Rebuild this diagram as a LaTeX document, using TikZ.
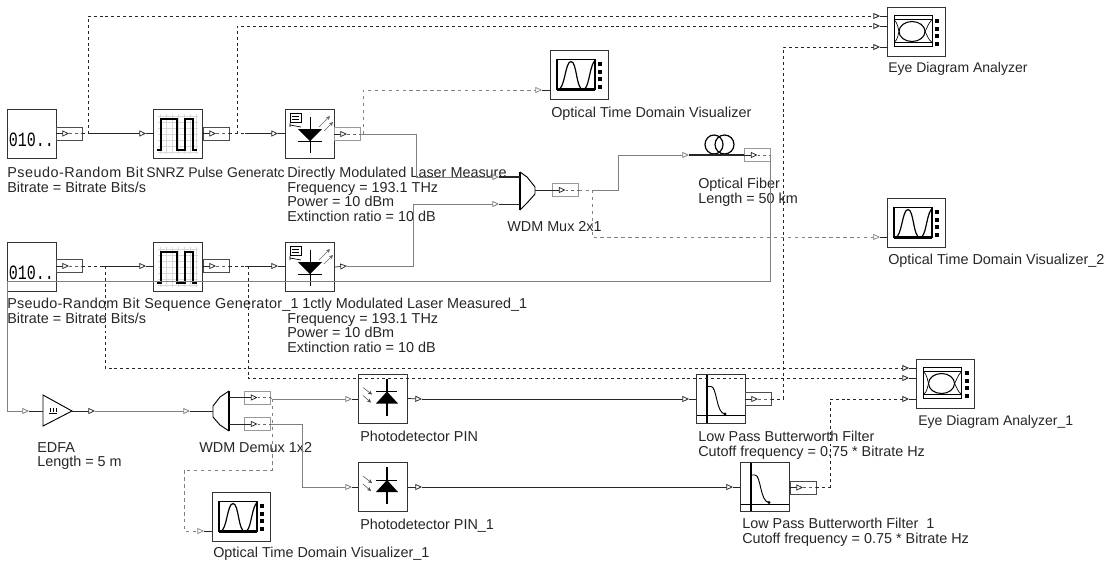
\documentclass[tikz,border=0pt]{standalone}
\usepackage{fontspec}
\setmainfont{Liberation Sans}
\newfontfamily\iconfont{Liberation Mono}
\usetikzlibrary{arrows.meta}
\newcommand{\widerun}[2]{{\addfontfeature{LetterSpace=#1}#2}}
\tikzset{
    blockbox/.style={draw=black!80,line width=0.6pt,minimum width=36.75pt,minimum height=36.75pt,inner sep=0pt},
    scopebox/.style={draw=black!80,line width=0.6pt,minimum width=43.5pt,minimum height=36.75pt,inner sep=0pt},
    portbox/.style={draw=black!70,line width=0.5pt,minimum width=19.5pt,minimum height=9.5pt,inner sep=0pt},
    portgrey/.style={portbox,draw=black!40},
    nodetext/.style={font=\fontsize{10.8}{10.9}\selectfont,anchor=north west,inner sep=0pt,align=left,text=black!85},
    tighttext/.style={nodetext,font=\fontsize{10.5}{10.9}\selectfont},
    eltip/.style={-{Triangle[open,fill=white,length=5pt,width=4.5pt]}},
    ellink/.style={draw=black!85,line width=0.55pt},
    oplink/.style={draw=black!50,line width=0.6pt},
    elwire/.style={draw=black!85,line width=0.65pt,dash pattern=on 2.2pt off 2.2pt},
    opwire/.style={draw=black!50,line width=0.5pt,dash pattern=on 2.6pt off 2.6pt},
    pics/bitsicon/.style={code={
        \node[font=\iconfont\fontsize{11.25}{12}\selectfont,inner sep=0pt] (-bits) at (0,6) {\scalebox{1}[1.35]{010..}};
    }},
    pics/pulseicon/.style={code={
        \foreach \g in {-18,-12,...,18} {\draw[black!15,line width=0.3pt] (\g,-20) -- (\g,20); \draw[black!15,line width=0.3pt] (-20,\g) -- (20,\g);}
        \draw[line width=0.9pt] (-21,16) -- (-17,16) -- (-17,-15) -- (-1,-15) -- (-1,16) -- (7,16) -- (7,-15) -- (15,-15) -- (15,16) -- (19,16);
    }},
    pics/lasericon/.style={code={
        \draw[line width=0.6pt] (0,-17) -- (0,19);
        \fill (-12,-5) -- (12,-5) -- (0,7) -- cycle;
        \draw[line width=0.6pt] (-12,7) -- (12,7);
        \draw[line width=0.5pt] (-20,-21) rectangle (-9,-12);
        \draw[line width=0.5pt] (-18,-18) -- (-11,-18) (-18,-15) -- (-11,-15);
        \draw[line width=0.5pt] (-20,-11) -- (-20,-7) (-20,-9) -- (-9,-7);
        \draw[black!60,line width=0.4pt,-{Stealth[length=3pt,width=3pt]}] (9,-7) -- (20,-18);
        \draw[black!60,line width=0.4pt,-{Stealth[length=3pt,width=3pt]}] (14,-3) -- (23,-12);
    }},
    pics/sineicon/.style={code={
        \draw[line width=0.9pt] (-22,-15) rectangle (16,15);
        \draw[line width=1.6pt] (-22,15) -- (16,15);
        \draw[line width=0.9pt] (-21,15) .. controls (-14,15) and (-14,-13) .. (-8,-13) .. controls (-2,-13) and (-3,15) .. (4,15) .. controls (10,15) and (10,-5) .. (15,-13);
        \foreach \b in {-13,-5,2,10} {\fill (19,\b) rectangle (23,\b+4);}
    }},
    pics/eyeicon/.style={code={
        \draw[line width=0.6pt] (-22,-16) rectangle (16,15);
        \draw[line width=1.2pt] (-22,-16) -- (16,-16) (-22,15) -- (16,15);
        \draw[line width=0.5pt] (-22,-12) -- (16,-12) (-22,11) -- (16,11);
        \draw[line width=0.8pt] (-4,0) ellipse (13 and 10);
        \draw[line width=0.5pt] (-22,-12) .. controls (-18,-8) and (-18,-3) .. (-17,0) .. controls (-18,3) and (-18,8) .. (-22,11);
        \draw[line width=0.5pt] (16,-12) .. controls (12,-8) and (11,-3) .. (9,0) .. controls (11,3) and (12,8) .. (16,11);
        \foreach \b in {-13,-5,2,10} {\fill (19,\b) rectangle (23,\b+4);}
    }},
    pics/diodeicon/.style={code={
        \draw[line width=0.9pt] (4,-20) -- (4,17);
        \draw[line width=0.7pt] (-7,-7) -- (14,-7);
        \fill (4,-7) -- (15,5) -- (-7,5) -- cycle;
        \draw[black!70,line width=0.4pt,-{Stealth[length=3pt,width=3pt]}] (-20,-11) -- (-11,-4);
        \draw[black!70,line width=0.4pt,-{Stealth[length=3pt,width=3pt]}] (-20,-3) -- (-12,4);
    }},
    pics/filtericon/.style={code={
        \draw[line width=1.2pt] (-14,-24) -- (-14,24);
        \draw[line width=0.6pt] (-24,17) -- (24,17);
        \draw[line width=0.7pt] (-14,-12) -- (-10,-12) .. controls (-4,-12) and (-5,15) .. (4,15.5);
        \fill (4,15.5) circle (1.6);
    }},
}
\begin{document}
\begin{tikzpicture}[x=0.75pt,y=-0.75pt]
    \useasboundingbox (0,0) rectangle (1119,565);

    \node[blockbox] (prbsA) at (31.5,134) {};
    \node[blockbox] (snrzA) at (178,134) {};
    \node[blockbox] (laserA) at (310,134) {};
    \node[blockbox] (prbsB) at (31.5,267) {};
    \node[blockbox] (snrzB) at (178,267) {};
    \node[blockbox] (laserB) at (310,267) {};
    \node[blockbox] (pdA) at (383,398.5) {};
    \node[blockbox] (pdB) at (383,487) {};
    \node[blockbox] (lpfA) at (721,398.5) {};
    \node[blockbox] (lpfB) at (765,487) {};
    \node[scopebox] (otdvA) at (579,74.5) {};
    \node[scopebox] (otdvB) at (916,222.5) {};
    \node[scopebox] (otdvC) at (241,516.5) {};
    \node[scopebox] (eyeA) at (916,31.5) {};
    \node[scopebox] (eyeB) at (945.5,383.5) {};

    \node[portbox] (prbsAport) at (69,133.5) {};
    \node[portbox] (snrzAport) at (216,133.5) {};
    \node[portgrey] (laserAport) at (347,134) {};
    \node[portbox] (prbsBport) at (69,266) {};
    \node[portbox] (snrzBport) at (216,266) {};
    \node[portgrey] (muxport) at (565.5,190) {};
    \node[portgrey] (fiberport) at (757.5,155) {};
    \node[portgrey] (demuxAport) at (257.5,397.5) {};
    \node[portgrey] (demuxBport) at (257.5,424) {};
    \node[portbox] (lpfAport) at (758,399) {};
    \node[portbox] (lpfBport) at (803,487.5) {};

    \pic at (prbsA) {bitsicon};
    \pic at (prbsB) {bitsicon};
    \pic at (snrzA) {pulseicon};
    \pic at (snrzB) {pulseicon};
    \pic at (laserA) {lasericon};
    \pic at (laserB) {lasericon};
    \pic at (otdvA) {sineicon};
    \pic at (otdvB) {sineicon};
    \pic at (otdvC) {sineicon};
    \pic at (eyeA) {eyeicon};
    \pic at (eyeB) {eyeicon};
    \pic at (pdA) {diodeicon};
    \pic at (pdB) {diodeicon};
    \pic at (lpfA) {filtericon};
    \pic at (lpfB) {filtericon};

    \coordinate (fiber) at (719,144.5);
    \draw[line width=0.9pt] (fiber) ++(-5,0) ellipse (9 and 9.5);
    \draw[line width=0.9pt] (fiber) ++(5.5,0) ellipse (9.5 and 9.5);
    \coordinate (muxout) at (535,190);
    \coordinate (demuxin) at (213,411);
    \coordinate (edfaout) at (72,411);
    \coordinate (edfain) at (43,411);
    \coordinate (demuxoutA) at (229,397.5);
    \coordinate (demuxoutB) at (229,424);
    \draw[line width=0.7pt] (520,172) -- (527,177) -- (535,187) -- (535,194) -- (527,203) -- (520,210);
    \draw[line width=1.5pt] (520,172) -- (520,210);
    \draw[line width=0.7pt] (229,391) -- (220,397) -- (213,406) -- (213,417) -- (220,425) -- (229,431);
    \draw[line width=1.5pt] (229,391) -- (229,431);
    \draw[line width=0.7pt] (43,395) -- (72,411) -- (43,426) -- cycle;
    \draw[line width=0.4pt] (49,413) -- (57,413) (50,408) -- (50,412) (53,408) -- (53,412) (56,408) -- (56,412);

    \node[nodetext] (prbsAtext) at (7,167) {\widerun{3.5}{Pseudo-Random Bit}\\Bitrate = Bitrate Bits/s};
    \node[tighttext] (snrzAtext) at (146,167) {SNRZ Pulse Generatc};
    \node[nodetext] (laserAtext) at (287,167) {Directly Modulated Laser Measure\\Frequency = 193.1 THz\\Power = 10 dBm\\Extinction ratio = 10 dB};
    \node[nodetext] (otdvAtext) at (551,107) {Optical Time Domain Visualizer};
    \node[nodetext] (fibertext) at (698,178) {Optical Fiber\\Length = 50 km};
    \node[nodetext] (muxtext) at (507,221) {WDM Mux 2x1};
    \node[tighttext] (eyeAtext) at (888,62) {Eye Diagram Analyzer};
    \node[nodetext] (otdvBtext) at (888,254) {Optical Time Domain Visualizer\_2};
    \node[nodetext] (prbsBtext) at (7,298) {\widerun{1.8}{Pseudo-Random Bit Sequence Generator\_1}\\Bitrate = Bitrate Bits/s};
    \node[nodetext] (laserBname) at (302,298) {1ctly Modulated Laser Measured\_1};
    \node[nodetext] (laserBtext) at (287,313) {Frequency = 193.1 THz\\Power = 10 dBm\\Extinction ratio = 10 dB};
    \node[nodetext] (edfatext) at (37,442) {EDFA\\Length = 5 m};
    \node[nodetext] (demuxtext) at (199,442) {WDM Demux 1x2};
    \node[nodetext] (pdAtext) at (360,431) {Photodetector PIN};
    \node[nodetext] (pdBtext) at (360,519) {Photodetector PIN\_1};
    \node[nodetext] (otdvCtext) at (213,547) {Optical Time Domain Visualizer\_1};
    \node[nodetext] (lpfAtext) at (698,431) {Low Pass Butterworth Filter\\Cutoff frequency = 0.75 * Bitrate Hz};
    \node[tighttext] (eyeBtext) at (918,415) {Eye Diagram Analyzer\_1};
    \node[nodetext] (lpfBtext) at (742,518) {Low Pass Butterworth Filter\ \ 1\\Cutoff frequency = 0.75 * Bitrate Hz};

    \coordinate (snrzAin) at (146,133.5);
    \coordinate (laserAin) at (278,133.5);
    \coordinate (snrzBin) at (146,266);
    \coordinate (laserBin) at (278,266);
    \coordinate (laserBout) at (347,266);
    \coordinate (otdvAin) at (542,90);
    \coordinate (otdvBin) at (880,237);
    \coordinate (otdvCin) at (204,531);
    \coordinate (eyeAinA) at (880,16);
    \coordinate (eyeAinB) at (880,26);
    \coordinate (eyeAinC) at (880,47);
    \coordinate (eyeBinA) at (909,368);
    \coordinate (eyeBinB) at (909,378);
    \coordinate (eyeBinC) at (909,399);
    \coordinate (muxinA) at (499,177);
    \coordinate (muxinB) at (499,204);
    \coordinate (fiberin) at (689,155);
    \coordinate (feedback) at (7,281);
    \coordinate (edfatip) at (29,411);
    \coordinate (edfaouttip) at (95,411);
    \coordinate (demuxtip) at (190,411);
    \coordinate (pdAin) at (352,399);
    \coordinate (pdBin) at (352,487);
    \coordinate (pdAout) at (422,399);
    \coordinate (pdBout) at (422,487);
    \coordinate (lpfAin) at (689,399);
    \coordinate (lpfBin) at (733,487);
    \coordinate (prbsAjoin) at (88,133.5);
    \coordinate (snrzAjoin) at (245,133.5);
    \coordinate (snrzAtap) at (237,133.5);
    \coordinate (prbsBjoin) at (103,266);
    \coordinate (prbsBtap) at (105,266);
    \coordinate (snrzBjoin) at (245,266);
    \coordinate (snrzBtap) at (248,266);
    \coordinate (muxjoin) at (592,190);
    \coordinate (demuxjoin) at (272,399);

    \foreach \p in {prbsAport,snrzAport,laserAport,prbsBport,snrzBport,muxport,fiberport,demuxAport,demuxBport,lpfAport,lpfBport} {
        \draw[elwire,draw=black!60] (\p.center) -- (\p.east);
        \draw[ellink,eltip] (\p.west) -- (\p.center);
    }
    \foreach \t/\b in {snrzAin/snrzA,laserAin/laserA,snrzBin/snrzB,laserBin/laserB,otdvAin/otdvA,otdvBin/otdvB,otdvCin/otdvC,eyeAinA/eyeA,eyeAinB/eyeA,eyeAinC/eyeA,eyeBinA/eyeB,eyeBinB/eyeB,eyeBinC/eyeB,pdAin/pdA,pdBin/pdB,lpfAin/lpfA,lpfBin/lpfB} {
        \draw[ellink] (\t) -- (\t -| \b.west);
    }

    \draw[elwire] (prbsAport.east) -- (prbsAjoin);
    \draw[ellink,eltip] (prbsAjoin) -- (snrzAin);
    \draw[elwire] (snrzAport.east) -- (snrzAjoin);
    \draw[ellink,eltip] (snrzAjoin) -- (laserAin);
    \draw[elwire] (prbsBport.east) -- (prbsBjoin);
    \draw[ellink,eltip] (prbsBjoin) -- (snrzBin);
    \draw[elwire] (snrzBport.east) -- (snrzBjoin);
    \draw[ellink,eltip] (snrzBjoin) -- (laserBin);
    \draw[ellink,eltip] (laserB.east) -- (laserBout);

    \draw[elwire,eltip] (prbsAjoin) |- (eyeAinA);
    \draw[elwire,eltip] (snrzAtap) |- (eyeAinB);
    \draw[elwire,eltip] (prbsBtap) |- (eyeBinA);
    \draw[elwire,eltip] (snrzBtap) |- (eyeBinB);
    \draw[elwire] (lpfAport.east) -- ++(12,0) coordinate (lpfAjoin);
    \draw[elwire,eltip] (lpfAjoin) |- (eyeAinC);
    \draw[elwire] (lpfBport.east) -- ++(14,0) coordinate (lpfBjoin);
    \draw[elwire,eltip] (lpfBjoin) |- (eyeBinC);

    \draw[opwire] (laserAport.east) -- ++(3,0) coordinate (laserAjoin);
    \draw[opwire,eltip] (laserAjoin) |- (otdvAin);
    \draw[oplink,eltip] (laserAport.east) -- ++(56,0) |- (muxinA);
    \draw[oplink,eltip] (laserBout) -- ++(66,0) |- (muxinB);
    \draw[ellink,line width=1.2pt] (muxinA) -- ++(21,0);
    \draw[ellink] (muxinB) -- ++(21,0);
    \draw[ellink] (muxout) -- (muxport.west);
    \draw[opwire] (muxport.east) -- (muxjoin);
    \draw[oplink,eltip] (muxjoin) -- ++(26,0) |- (fiberin);
    \draw[opwire,eltip] (muxjoin) |- (otdvBin);
    \draw[ellink,line width=0.9pt] (fiberin) -- (fiberport.west);
    \draw[oplink,eltip] (fiberport.east) |- (feedback) |- (edfatip);
    \draw[ellink] (edfatip) -- (edfain);
    \draw[ellink,eltip] (edfaout) -- (edfaouttip);
    \draw[oplink,eltip] (edfaouttip) -- (demuxtip);
    \draw[ellink] (demuxtip) -- (demuxin);
    \draw[ellink,line width=1.3pt] (demuxoutA) -- (demuxAport.west);
    \draw[ellink] (demuxoutB) -- (demuxBport.west);
    \draw[opwire] (demuxAport.east) -- (demuxjoin);
    \draw[oplink,eltip] (demuxjoin) -- ++(28,0) |- (pdAin);
    \draw[oplink,eltip] (demuxBport.east) -- ++(32,0) |- (pdBin);
    \draw[opwire,eltip] (demuxjoin) |- ++(-88,71) |- (otdvCin);
    \draw[ellink,eltip] (pdA.east) -- (pdAout);
    \draw[ellink,eltip] (pdB.east) -- (pdBout);
    \draw[ellink,eltip] (pdAout) -- (lpfAin);
    \draw[ellink,eltip] (pdBout) -- (lpfBin);
\end{tikzpicture}
\end{document}
